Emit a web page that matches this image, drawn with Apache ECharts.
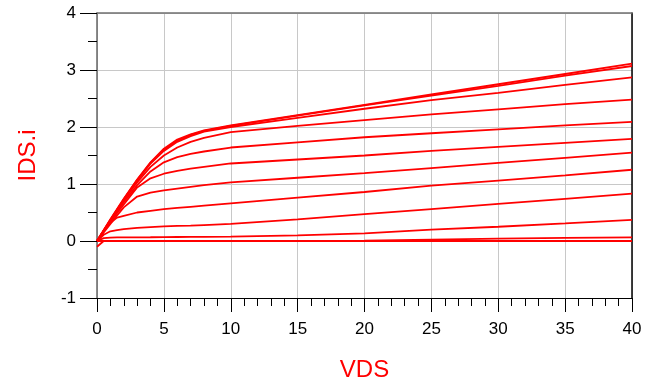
<!DOCTYPE html>
<html>
<head>
<meta charset="utf-8">
<script src="https://cdn.jsdelivr.net/npm/echarts@6/dist/echarts.min.js"></script>
<style>
  html, body { margin: 0; padding: 0; background: #fff; }
  #chart { width: 659px; height: 387px; }
</style>
</head>
<body>
<div id="chart"></div>
<script>
// VDS sweep points shared by every curve
const vds = [0, 0.5, 1, 1.5, 2, 3, 4, 5, 6, 7, 8, 10, 15, 20, 25, 30, 35, 40];

// IDS.i per gate step (top curve first)
const ids1  = [0, 0.19, 0.38, 0.56, 0.74, 1.08, 1.38, 1.62, 1.78, 1.87, 1.94, 2.03, 2.21, 2.39, 2.57, 2.75, 2.93, 3.11];
const ids2  = [0, 0.19, 0.37, 0.55, 0.73, 1.07, 1.37, 1.60, 1.76, 1.86, 1.93, 2.02, 2.20, 2.38, 2.55, 2.72, 2.90, 3.07];
const ids3  = [0, 0.18, 0.37, 0.55, 0.73, 1.06, 1.36, 1.58, 1.74, 1.84, 1.92, 2.00, 2.16, 2.32, 2.47, 2.60, 2.74, 2.87];
const ids4  = [0, 0.18, 0.36, 0.54, 0.71, 1.03, 1.30, 1.50, 1.64, 1.74, 1.81, 1.91, 2.02, 2.12, 2.22, 2.31, 2.40, 2.48];
const ids5  = [0, 0.18, 0.35, 0.52, 0.68, 0.98, 1.22, 1.38, 1.47, 1.53, 1.57, 1.64, 1.73, 1.82, 1.89, 1.96, 2.03, 2.09];
const ids6  = [0, 0.17, 0.33, 0.49, 0.64, 0.94, 1.10, 1.18, 1.23, 1.27, 1.30, 1.36, 1.43, 1.50, 1.58, 1.65, 1.72, 1.79];
const ids7  = [0, 0.15, 0.30, 0.45, 0.59, 0.78, 0.85, 0.89, 0.92, 0.95, 0.98, 1.03, 1.11, 1.19, 1.28, 1.37, 1.46, 1.55];
const ids8  = [0, 0.17, 0.32, 0.41, 0.44, 0.50, 0.53, 0.56, 0.58, 0.60, 0.62, 0.66, 0.76, 0.86, 0.97, 1.06, 1.15, 1.25];
const ids9  = [0, 0.11, 0.17, 0.19, 0.21, 0.23, 0.245, 0.255, 0.265, 0.27, 0.28, 0.30, 0.38, 0.47, 0.56, 0.65, 0.74, 0.83];
const ids10 = [0, 0.05, 0.06, 0.062, 0.063, 0.065, 0.066, 0.068, 0.07, 0.072, 0.074, 0.077, 0.10, 0.135, 0.20, 0.25, 0.31, 0.372];
const ids11 = [-0.1, 0, 0, 0, 0, 0, 0, 0, 0, 0, 0, 0, 0, 0.005, 0.025, 0.042, 0.054, 0.064];
const ids12 = [0, 0, 0, 0, 0, 0, 0, 0, 0, 0, 0, 0, 0, 0, 0, 0, 0, 0];

const curves = [ids1, ids2, ids3, ids4, ids5, ids6, ids7, ids8, ids9, ids10, ids11, ids12];

const xTicks = [0, 5, 10, 15, 20, 25, 30, 35, 40];
const yTicks = [-1, 0, 1, 2, 3, 4];

const FONT = "'Liberation Sans', Arial, sans-serif";
const RED = "#ff0000";

const chart = echarts.init(document.getElementById("chart"), null, { renderer: "canvas" });

const series = curves.map((ys, k) => ({
  name: "c" + k,
  type: "line",
  xAxisIndex: 0,
  yAxisIndex: 0,
  data: ys.map((v, i) => [vds[i], v]),
  showSymbol: false,
  symbol: "none",
  lineStyle: { color: RED, width: 1.8 },
  silent: true,
  z: 5
}));

chart.setOption({
  animation: false,
  backgroundColor: "#fff",
  grid: { left: 97, right: 27, top: 13, bottom: 87, containLabel: false },
  xAxis: [
    {
      type: "value",
      position: "bottom",
      min: xTicks[0],
      max: xTicks[xTicks.length - 1],
      interval: 5,
      name: "VDS",
      nameLocation: "middle",
      nameGap: 60,
      nameTextStyle: { color: RED, fontSize: 24, fontFamily: FONT },
      axisLine: { show: true, onZero: false, lineStyle: { color: "#000", width: 1 } },
      axisTick: { show: true, inside: false, length: 14, lineStyle: { color: "#000" } },
      minorTick: { show: true, splitNumber: 5, length: 8, lineStyle: { color: "#000" } },
      axisLabel: { color: "#000", fontSize: 17, fontFamily: FONT, margin: 23 },
      splitLine: { show: true, lineStyle: { color: "#c8c8c8", width: 1 } }
    },
    {
      // top border
      type: "value",
      position: "top",
      min: 0,
      max: 40,
      axisLine: { show: true, onZero: false, lineStyle: { color: "#707070", width: 1.5 } },
      axisTick: { show: false },
      axisLabel: { show: false },
      splitLine: { show: false }
    }
  ],
  yAxis: [
    {
      type: "value",
      position: "left",
      min: yTicks[0],
      max: yTicks[yTicks.length - 1],
      interval: 1,
      name: "IDS.i",
      nameLocation: "middle",
      nameGap: 57,
      nameRotate: 90,
      nameTextStyle: { color: RED, fontSize: 24, fontFamily: FONT },
      axisLine: { show: true, onZero: false, lineStyle: { color: "#666", width: 1.5 } },
      axisTick: { show: true, inside: false, length: 17, lineStyle: { color: "#000" } },
      minorTick: { show: true, splitNumber: 2, length: 9, lineStyle: { color: "#000" } },
      axisLabel: { color: "#000", fontSize: 17, fontFamily: FONT, margin: 21 },
      splitLine: { show: true, lineStyle: { color: "#c8c8c8", width: 1 } }
    },
    {
      // right border
      type: "value",
      position: "right",
      min: -1,
      max: 4,
      axisLine: { show: true, onZero: false, lineStyle: { color: "#000", width: 1.5 } },
      axisTick: { show: false },
      axisLabel: { show: false },
      splitLine: { show: false }
    }
  ],
  series: series
});
</script>
</body>
</html>
